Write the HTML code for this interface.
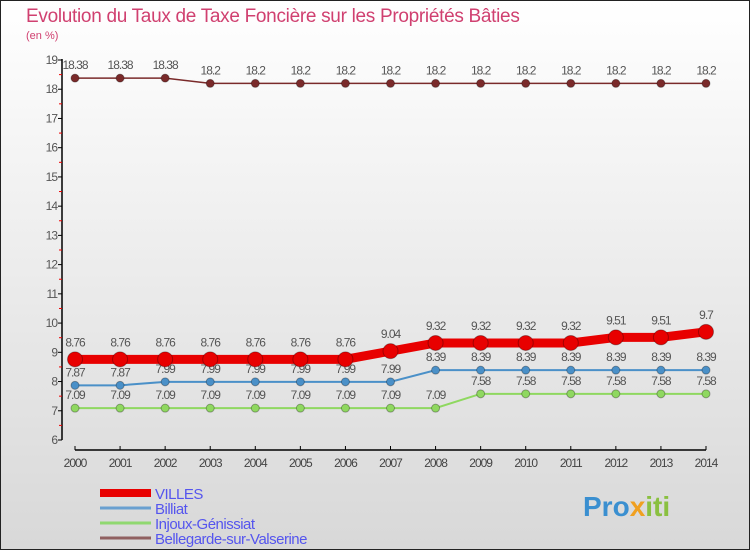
<!DOCTYPE html>
<html><head><meta charset="utf-8"><style>
body{margin:0;}
#c{width:750px;height:550px;position:relative;background:linear-gradient(#ffffff,#d8d8d8);border:1px solid #222;box-sizing:border-box;font-family:"Liberation Sans",sans-serif;overflow:hidden}
</style></head><body>
<div id="c">
<svg id="s" width="750" height="550" style="position:absolute;left:-1px;top:-1px">
<text x="26" y="22" font-size="19" fill="#d04070" letter-spacing="-0.3">Evolution du Taux de Taxe Foncière sur les Propriétés Bâties</text>
<text x="26" y="39" font-size="11" fill="#d04070">(en %)</text>
<g id="g"></g>
<text x="583" y="516" font-size="28" font-weight="bold" fill="#3a8fd0">Pro<tspan fill="#f0a020">x</tspan><tspan fill="#8ac040">iti</tspan></text>
</svg>
</div>
<script>
const years=[2000,2001,2002,2003,2004,2005,2006,2007,2008,2009,2010,2011,2012,2013,2014];
const villes=[8.76,8.76,8.76,8.76,8.76,8.76,8.76,9.04,9.32,9.32,9.32,9.32,9.51,9.51,9.7];
const billiat=[7.87,7.87,7.99,7.99,7.99,7.99,7.99,7.99,8.39,8.39,8.39,8.39,8.39,8.39,8.39];
const injoux=[7.09,7.09,7.09,7.09,7.09,7.09,7.09,7.09,7.09,7.58,7.58,7.58,7.58,7.58,7.58];
const bellegarde=[18.38,18.38,18.38,18.2,18.2,18.2,18.2,18.2,18.2,18.2,18.2,18.2,18.2,18.2,18.2];
const yTicks=[6,7,8,9,10,11,12,13,14,15,16,17,18,19];
const seriesNames=["VILLES","Billiat","Injoux-Génissiat","Bellegarde-sur-Valserine"];
const NS="http://www.w3.org/2000/svg";
const g=document.getElementById('g');
const X=i=>75+i*(706-75)/(years.length-1);
const Y=v=>440-(v-6)*(380/13);
function el(t,a,p){const e=document.createElementNS(NS,t);for(const k in a)e.setAttribute(k,a[k]);(p||g).appendChild(e);return e;}
let e;
e=el('line',{x1:62,y1:59,x2:62,y2:440,stroke:'#000','stroke-width':1.5});


e=el('line',{x1:75,y1:450,x2:706,y2:450,stroke:'#000','stroke-width':1.5});


yTicks.forEach(v=>{
 el('line',{x1:58,y1:Y(v),x2:62,y2:Y(v),stroke:'#000'});
 if(v<19){el('line',{x1:59,y1:Y(v+0.5),x2:62,y2:Y(v+0.5),stroke:'#e00'});}
 const t=el('text',{x:57,y:Y(v)+4,'font-size':12,fill:'#555','text-anchor':'end','letter-spacing':'-1'});t.textContent=v;
 
 
});
years.forEach((yr,i)=>{
 el('line',{x1:X(i),y1:446,x2:X(i),y2:450,stroke:'#000'});
 const t=el('text',{x:X(i),y:467,'font-size':12,fill:'#444','text-anchor':'middle','letter-spacing':'-1'});t.textContent=yr;
 
 
});
function series(vals,color,w,r,name,dy){
 const p=vals.map((v,i)=>X(i)+','+Y(v)).join(' ');
 const l=el('polyline',{points:p,fill:'none',stroke:color,'stroke-width':w});
 
 
 vals.forEach((v,i)=>{
  const c=el('circle',{cx:X(i),cy:Y(v),r:r,fill:color,stroke:'rgba(0,0,0,0.3)','stroke-width':1});
  
  
  const t=el('text',{x:X(i),y:Y(v)-dy,'font-size':12,fill:'#555','text-anchor':'middle','letter-spacing':'-1'});t.textContent=v;
  
  
 });
}
series(injoux,'#8fd860',2,4,'injoux',9);
series(billiat,'#4a90c8',2,4,'billiat',9);
series(bellegarde,'#7a2a2a',1.5,4,'bellegarde',9);
series(villes,'#e80000',9,7.5,'villes',13);
const cols=['#e80000','#6aa0d0','#90d870','#906060'],ws=[8,3,3,3];
seriesNames.forEach((n,i)=>{
 const y=493+i*15;
 const l=el('line',{x1:100,y1:y,x2:151,y2:y,stroke:cols[i],'stroke-width':ws[i]});
 
 
 const t=el('text',{x:155,y:y+6,'font-size':15,fill:'#5555ee','letter-spacing':'-0.5'});t.textContent=n;
 
 
});
</script>
</body></html>
